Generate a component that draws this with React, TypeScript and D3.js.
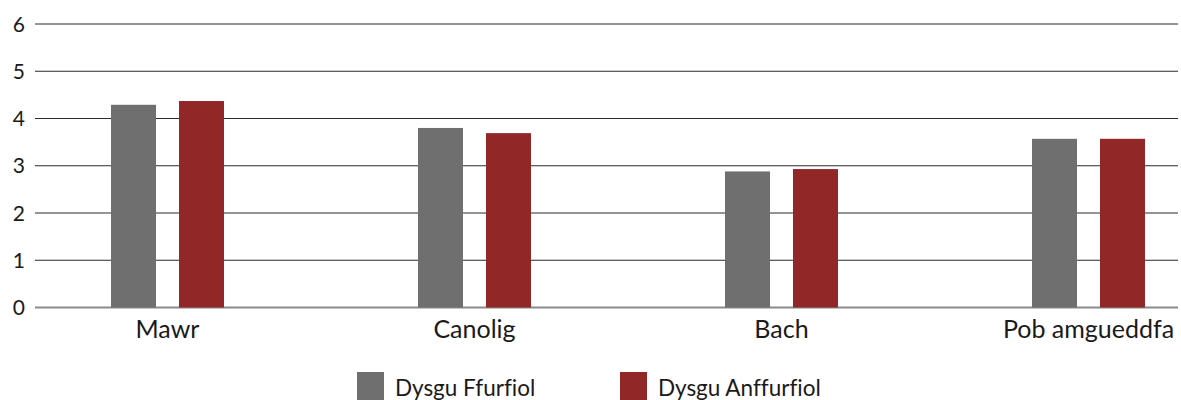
import React, { useEffect, useRef } from "react";
import * as d3 from "d3";

const categories = ["Mawr", "Canolig", "Bach", "Pob amgueddfa"];
const seriesNames = ["Dysgu Ffurfiol", "Dysgu Anffurfiol"];
const ffurfiol = [4.29, 3.8, 2.88, 3.57];
const anffurfiol = [4.37, 3.69, 2.93, 3.57];
const yTicks = [0, 1, 2, 3, 4, 5, 6];
const colors = ["#6f6f6f", "#922728"];

const FONT = "Lato, 'Open Sans', sans-serif";

export default function App() {
  const ref = useRef<SVGSVGElement>(null);

  useEffect(() => {
    const width = 1181;
    const height = 400;
    const left = 35;
    const right = 1178;

    const svg = d3.select(ref.current);
    svg.selectAll("*").remove();

    const y = d3.scaleLinear().domain([0, 6]).range([307.5, 24]);
    const x = d3.scalePoint<string>().domain(categories).range([167.5, 1088.5]);
    const barW = 45;
    const offset = 34;

    // gridlines
    svg.append("g")
      .selectAll("line")
      .data(yTicks)
      .enter()
      .append("line")
      .attr("x1", left)
      .attr("x2", right)
      .attr("y1", d => y(d))
      .attr("y2", d => y(d))
      .attr("stroke", d => (d === 0 ? "#8a8a8a" : "#2b2b2b"))
      .attr("stroke-width", d => (d === 0 ? 2 : 1));

    // y labels
    svg.append("g")
      .selectAll("text")
      .data(yTicks)
      .enter()
      .append("text")
      .attr("x", 25)
      .attr("y", d => y(d))
      .attr("dy", "0.36em")
      .attr("text-anchor", "end")
      .attr("font-family", FONT)
      .attr("font-size", 21)
      .attr("fill", "#1a1a1a")
      .text(d => d);

    const series = [ffurfiol, anffurfiol];
    series.forEach((vals, si) => {
      svg.append("g")
        .selectAll("rect")
        .data(categories)
        .enter()
        .append("rect")
        .attr("x", c => (x(c) as number) + (si === 0 ? -offset : offset) - barW / 2)
        .attr("y", (c, i) => y(vals[i]))
        .attr("width", barW)
        .attr("height", (c, i) => y(0) - y(vals[i]))
        .attr("fill", colors[si]);
    });

    // category labels
    svg.append("g")
      .selectAll("text")
      .data(categories)
      .enter()
      .append("text")
      .attr("x", c => x(c) as number)
      .attr("y", 338)
      .attr("text-anchor", "middle")
      .attr("font-family", FONT)
      .attr("font-size", 25)
      .attr("fill", "#1a1a1a")
      .text(c => c);

    // legend
    const legendX = [357, 620];
    const lg = svg.append("g");
    seriesNames.forEach((name, i) => {
      lg.append("rect")
        .attr("x", legendX[i])
        .attr("y", 372)
        .attr("width", 27)
        .attr("height", 30)
        .attr("fill", colors[i]);
      lg.append("text")
        .attr("x", legendX[i] + 38)
        .attr("y", 396)
        .attr("font-family", FONT)
        .attr("font-size", 22.5)
        .style("font-variant-ligatures", "none")
        .attr("fill", "#1a1a1a")
        .text(name);
    });

    svg.attr("width", width).attr("height", height);
  }, []);

  return (
    <svg
      ref={ref}
      width={1181}
      height={400}
      style={{ position: "absolute", left: 0, top: 0, background: "#fff" }}
    />
  );
}
